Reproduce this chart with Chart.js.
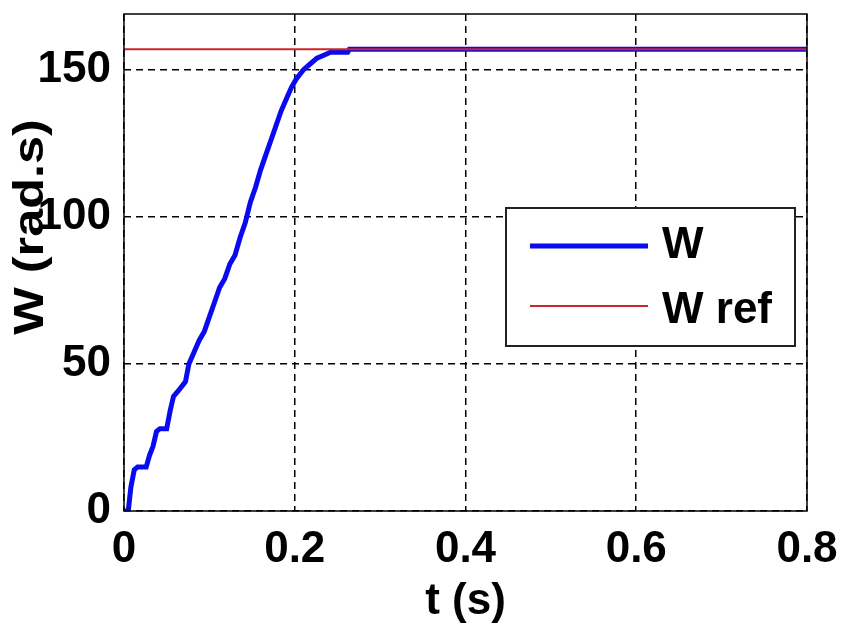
<!DOCTYPE html>
<html>
<head>
<meta charset="utf-8">
<script src="https://cdn.jsdelivr.net/npm/chart.js@4"></script>
<style>
html,body{margin:0;padding:0;background:#fff;}
#wrap{width:842px;height:630px;}
</style>
</head>
<body>
<div id="wrap"><canvas id="c" width="842" height="630"></canvas></div>
<script>
// ---- data ----
const tW = [0, 0.005, 0.008, 0.012, 0.016, 0.026, 0.030, 0.034, 0.038, 0.042, 0.050, 0.054, 0.058, 0.064, 0.072, 0.076, 0.082, 0.088, 0.094, 0.100, 0.106, 0.112, 0.118, 0.124, 0.130, 0.136, 0.142, 0.148, 0.154, 0.160, 0.166, 0.172, 0.178, 0.184, 0.190, 0.196, 0.202, 0.210, 0.218, 0.226, 0.234, 0.242, 0.262, 0.264, 0.8];
const wValues = [0, 0, 8, 14, 15, 15, 19, 22, 27, 28, 28, 34, 39, 41, 44, 50, 54, 58, 61, 66, 71, 76, 79, 84, 87, 93, 98, 105, 110, 116, 121, 126, 131, 136, 140, 144, 147, 150, 152, 154, 155, 156, 156, 157, 157];
const tRef = [0, 0.8];
const wRefValues = [157, 157];
const xTicks = [0, 0.2, 0.4, 0.6, 0.8];
const yTicks = [0, 50, 100, 150];
const seriesNames = ['W', 'W ref'];
const xTitle = 't (s)';
const yTitle = 'W (rad.s)';

const FONT = "'Liberation Sans', Arial, Helvetica, sans-serif";

const bgPlugin = {
  id: 'bg',
  beforeDraw(chart) {
    const ctx = chart.ctx;
    ctx.save();
    ctx.fillStyle = '#fff';
    ctx.fillRect(0, 0, chart.width, chart.height);
    ctx.restore();
  }
};

const framePlugin = {
  id: 'frame',
  afterDraw(chart) {
    const a = chart.chartArea, ctx = chart.ctx;
    ctx.save();
    ctx.strokeStyle = '#000';
    ctx.lineWidth = 1.5;
    ctx.setLineDash([]);
    ctx.strokeRect(a.left, a.top, a.right - a.left, a.bottom - a.top);
    // y axis title
    ctx.fillStyle = '#000';
    ctx.font = "bold 42px " + FONT;
    ctx.textAlign = 'center';
    ctx.textBaseline = 'middle';
    ctx.translate(31, 227);
    ctx.rotate(-Math.PI / 2);
    ctx.scale(1.2, 1);
    ctx.fillText(yTitle, 0, 0);
    ctx.restore();
  }
};

const legendPlugin = {
  id: 'boxLegend',
  afterDraw(chart) {
    const ctx = chart.ctx;
    const ds = chart.data.datasets;
    ctx.save();
    ctx.fillStyle = '#fff';
    ctx.fillRect(506, 208, 289, 138);
    ctx.strokeStyle = '#222';
    ctx.lineWidth = 2;
    ctx.strokeRect(506, 208, 289, 138);
    const rows = [{ly: 246, ty: 246}, {ly: 306, ty: 311}];
    ds.forEach((d, i) => {
      const r = rows[i];
      ctx.strokeStyle = d.borderColor;
      ctx.lineWidth = d.borderWidth;
      ctx.beginPath();
      ctx.moveTo(530, r.ly);
      ctx.lineTo(648, r.ly);
      ctx.stroke();
      ctx.fillStyle = '#000';
      ctx.font = "bold 44px " + FONT;
      ctx.textAlign = 'left';
      ctx.textBaseline = 'middle';
      ctx.fillText(d.label, 662, r.ty);
    });
    ctx.restore();
  }
};

const tickFont = {family: FONT, size: 44, weight: 'bold', lineHeight: 1.2};

function zeroPad(s) { s.paddingTop = 0; s.paddingBottom = 0; s.paddingLeft = 0; s.paddingRight = 0; }

new Chart(document.getElementById('c'), {
  type: 'line',
  data: {
    datasets: [
      {
        label: seriesNames[0],
        data: tW.map((t, i) => ({x: t, y: wValues[i]})),
        borderColor: '#0a0aee',
        borderWidth: 5,
        pointRadius: 0,
        tension: 0,
        order: 2
      },
      {
        label: seriesNames[1],
        data: tRef.map((t, i) => ({x: t, y: wRefValues[i]})),
        borderColor: '#c8262a',
        borderWidth: 2,
        pointRadius: 0,
        tension: 0,
        order: 1
      }
    ]
  },
  options: {
    responsive: false,
    animation: false,
    layout: {padding: {left: 0, top: 14, right: 35, bottom: 0}},
    plugins: {legend: {display: false}, tooltip: {enabled: false}},
    scales: {
      x: {
        type: 'linear',
        min: 0, max: 0.8,
        afterBuildTicks: s => { s.ticks = xTicks.map(v => ({value: v})); },
        afterFit: s => { s.height = 119; zeroPad(s); },
        ticks: {
          font: tickFont, color: '#000', padding: 12, maxRotation: 0,
          callback: v => String(v)
        },
        grid: {color: '#000', lineWidth: 1.5, drawTicks: false},
        border: {display: false, dash: [7, 5]},
        title: {display: true, text: xTitle, color: '#000', font: tickFont, padding: {top: 0, bottom: 2}}
      },
      y: {
        type: 'linear',
        min: 0, max: 169,
        afterBuildTicks: s => { s.ticks = yTicks.map(v => ({value: v})); },
        afterFit: s => { s.width = 124; zeroPad(s); },
        ticks: {font: tickFont, color: '#000', padding: 13, callback: v => String(v)},
        grid: {color: '#000', lineWidth: 1.5, drawTicks: false},
        border: {display: false, dash: [7, 5]}
      }
    }
  },
  plugins: [bgPlugin, framePlugin, legendPlugin]
});
</script>
</body>
</html>
